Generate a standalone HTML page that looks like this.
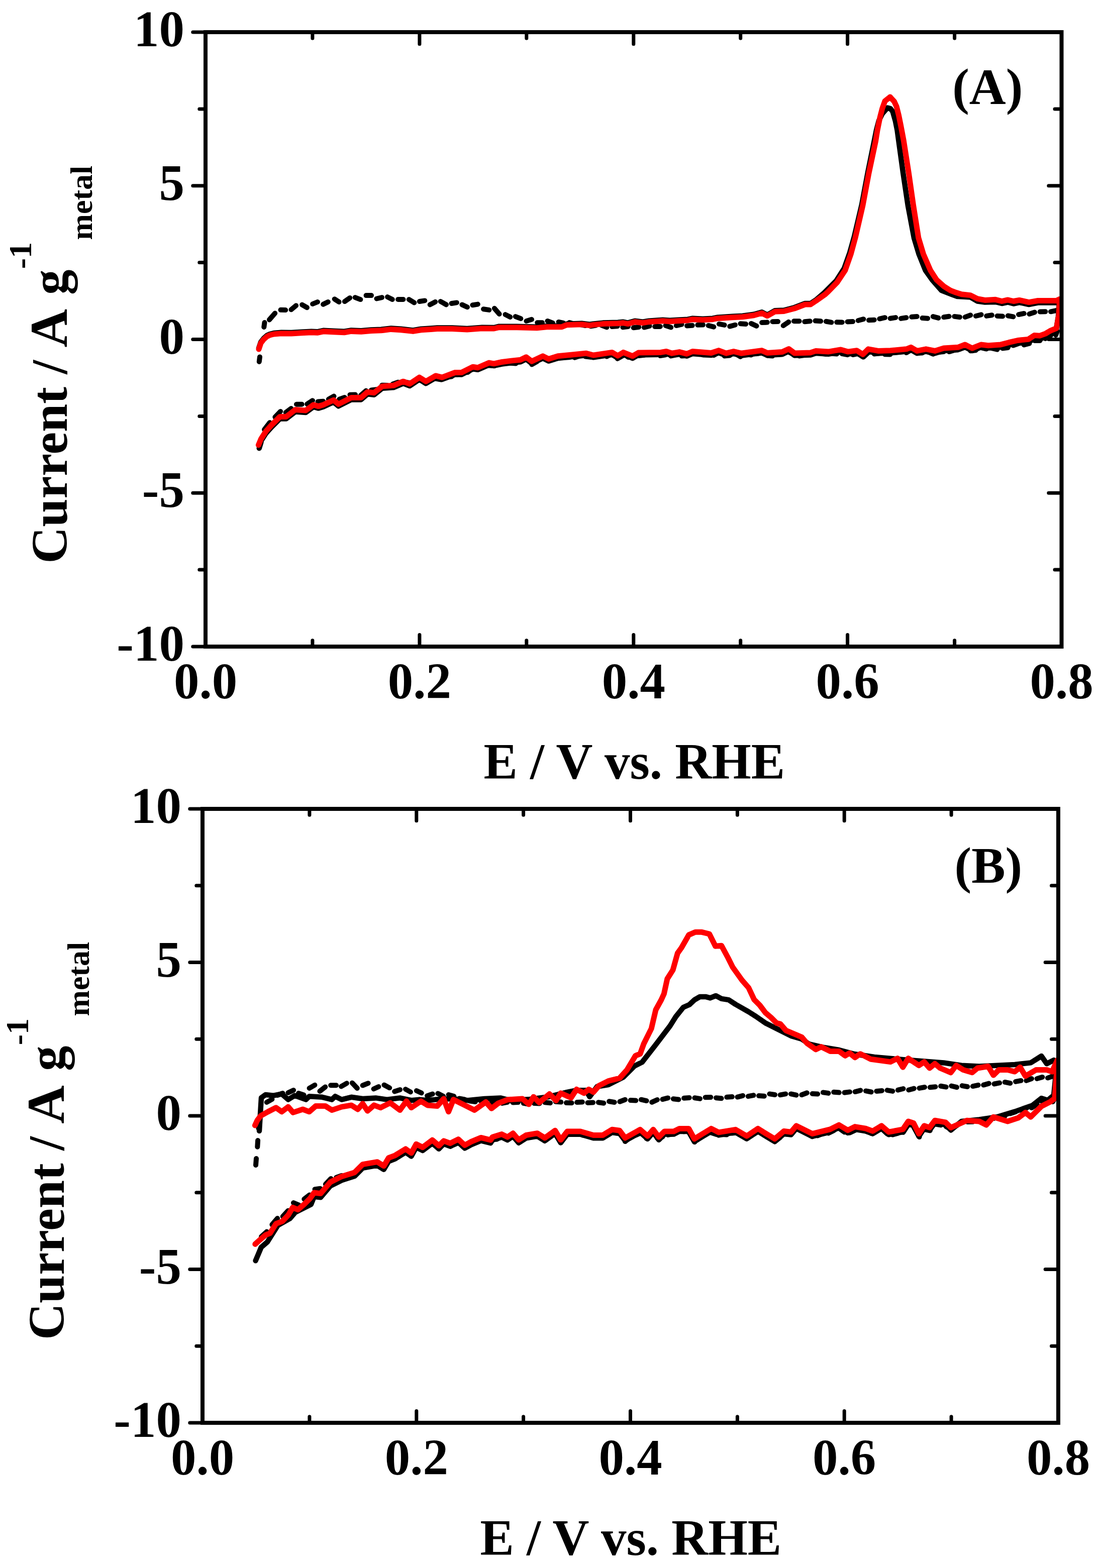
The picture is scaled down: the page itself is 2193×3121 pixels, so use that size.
<!DOCTYPE html>
<html><head><meta charset="utf-8"><title>CV plot</title>
<style>html,body{margin:0;padding:0;background:#fff;}svg{display:block;}</style>
</head><body>
<svg width="2193" height="3121" viewBox="0 0 2193 3121">
<rect width="100%" height="100%" fill="#fff"/>
<g font-family="'Liberation Serif', 'Times New Roman', serif" font-weight="bold" font-size="101" fill="#000">
<path d="M515.8 720.0L517.0 710.4M525.3 651.0L526.5 642.0M536.0 636.4L547.2 623.5M558.5 616.8L568.2 617.1M579.5 616.3L589.1 608.2M601.2 606.6L610.9 612.2M622.2 605.0L631.9 601.0M643.1 605.8L652.8 601.0M665.7 595.3L674.6 601.0M685.9 600.1L696.3 592.9M706.8 592.1L717.3 596.1M728.6 588.1L739.0 588.1M749.5 594.5L760.0 592.1M771.1 591.1L780.8 596.0M792.1 596.0L802.5 596.0M813.8 596.0L824.3 602.4M834.8 600.0L845.3 598.4M855.7 606.4L866.2 600.8M876.7 600.0L888.0 606.4M898.5 604.0L908.9 602.4M919.4 606.4L929.9 611.3M940.4 607.2L950.8 605.6M962.1 615.3L973.4 616.9M983.9 613.7L993.6 625.0M1005.6 626.1L1015.3 631.0M1025.8 630.1L1036.3 634.2M1047.5 639.0L1058.0 635.8M1069.3 642.2L1079.0 642.2M1089.5 639.0L1100.0 643.0M1111.6 641.0L1121.0 643.0M1132.9 642.1L1143.6 645.1M1154.2 645.9L1164.8 648.0M1175.5 649.2L1186.1 647.6M1196.8 647.4L1207.4 651.4M1218.1 650.1L1228.7 649.2M1239.4 651.4L1250.0 650.0M1260.7 652.3L1271.3 651.0M1281.9 651.6L1292.6 648.9M1303.2 650.1L1313.9 649.9M1324.5 648.0L1335.2 651.6M1345.8 648.1L1356.5 645.7M1367.1 648.4L1377.7 647.8M1388.4 646.8L1399.0 646.5M1409.7 647.9L1420.3 650.7M1431.0 644.9L1441.6 646.9M1452.3 649.6L1462.9 646.7M1473.5 644.2L1484.2 645.0M1494.8 643.9L1505.5 648.9M1516.1 642.1L1526.8 641.6M1537.4 640.2L1548.1 640.0M1558.7 648.2L1569.4 640.8M1580.0 639.2L1590.6 639.2M1601.3 640.3L1611.9 639.3M1622.6 638.6L1633.2 639.3M1643.9 639.8L1654.5 641.6M1665.2 641.3L1675.8 641.5M1686.5 640.4L1697.1 640.1M1707.7 638.0L1718.4 635.2M1729.0 637.3L1739.7 636.7M1750.3 634.6L1761.0 632.2M1771.6 633.7L1782.3 632.1M1792.9 633.9L1803.5 632.2M1814.2 630.8L1824.8 630.0M1835.5 633.1L1846.1 633.7M1856.8 630.1L1867.4 632.9M1878.1 631.3L1888.7 629.8M1899.3 629.9L1910.0 631.2M1920.6 631.1L1931.3 627.3M1941.9 629.0L1952.6 626.3M1963.2 628.9L1973.9 627.2M1984.5 629.0L1995.2 629.6M2005.8 628.5L2016.4 630.4M2027.1 626.1L2037.7 623.9M2048.4 625.0L2059.0 621.5M2069.7 620.5L2080.3 620.2M2091.0 620.3L2101.6 618.1M2104.0 659.0L2101.0 667.0M2091.0 667.7L2080.3 674.0M2069.7 677.9L2059.0 678.1M2048.4 683.6L2037.7 686.4M2027.1 683.7L2016.4 687.6M2005.8 692.0L1995.2 693.4M1984.5 695.7L1973.9 693.2M1963.2 694.5L1952.6 692.1M1941.9 697.2L1931.3 698.4M1920.6 690.6L1910.0 695.0M1899.3 696.9L1888.7 700.1M1878.1 700.1L1867.4 700.9M1856.8 704.8L1846.1 699.9M1835.5 702.6L1824.8 702.7M1814.2 696.0L1803.5 702.1M1792.9 700.4L1782.3 701.4M1771.6 705.4L1761.0 705.2M1750.3 703.2L1739.7 704.5M1729.0 700.9L1718.4 710.6M1707.7 703.9L1697.1 706.1M1686.5 706.2L1675.8 704.1M1665.2 704.4L1654.5 703.8M1643.9 704.7L1633.2 703.2M1622.6 702.8L1611.9 705.6M1601.3 706.9L1590.6 708.5M1580.0 705.5L1569.4 700.7M1558.7 704.3L1548.1 705.7M1537.4 708.4L1526.8 707.7M1516.1 702.3L1505.5 704.2M1494.8 706.5L1484.2 705.3M1473.5 710.0L1462.9 703.5M1452.3 707.5L1441.6 708.4M1431.0 701.1L1420.3 707.1M1409.7 706.6L1399.0 706.5M1388.4 703.4L1377.7 702.8M1367.1 707.9L1356.5 708.5M1345.8 705.4L1335.2 708.5M1324.5 706.4L1313.9 708.1M1303.2 705.8L1292.6 706.0M1281.9 706.8L1271.3 708.0M1260.7 711.0L1250.0 711.0M1239.4 707.9L1228.7 713.9M1218.1 704.2L1207.4 709.5M1196.8 707.6L1186.1 710.2M1175.5 710.7L1164.8 709.6M1154.2 708.3L1143.6 711.7M1132.9 711.2L1122.3 711.3M1111.6 712.4L1101.0 714.8M1090.3 716.5L1079.7 712.2M1069.0 719.3L1058.4 725.4M1047.8 714.3L1037.1 718.1M1026.5 723.4L1015.8 722.7M1005.2 723.6L994.5 724.6M983.9 728.2L973.2 727.6M962.6 730.7L951.9 735.1M941.3 732.6L930.7 741.2M920.0 742.9L909.4 745.6M898.7 749.5L888.1 750.6M877.4 755.6L866.8 753.7M856.1 758.1L845.5 761.8M834.8 751.6L824.2 758.7M813.6 761.9L802.9 759.8M792.3 760.7L781.6 764.4M771.0 766.9L760.3 766.7M749.7 775.3L739.0 776.4M728.4 777.8L717.8 787.0M707.1 785.6L696.5 785.8M685.8 791.0L675.2 794.8M664.5 788.6L653.9 794.5M643.2 798.8L632.6 799.5M622.0 797.3L611.3 804.3M600.7 804.7L590.0 804.8M579.4 813.0L568.7 821.0M558.1 818.9L547.4 830.1M536.8 841.1L526.1 855.0" fill="none" stroke="#000" stroke-width="10" stroke-linecap="round"/>
<path d="M515.0 693.0L519.0 681.0L524.8 673.5L531.6 667.5L537.0 665.0L545.0 663.0L560.0 661.7L579.8 662.1L599.7 660.7L619.5 659.7L631.4 660.3L643.3 657.8L663.2 658.8L685.0 659.7L698.9 657.4L718.7 658.2L738.6 656.4L758.4 655.8L778.3 653.4L798.1 654.8L821.9 657.4L837.8 654.8L857.6 653.4L870.0 652.6L899.8 652.6L929.5 654.0L959.3 651.7L983.1 652.0L993.0 649.7L1028.7 649.7L1068.4 650.7L1088.3 648.7L1118.0 648.7L1127.9 644.7L1157.7 643.7L1173.6 645.7L1180.0 644.6L1199.8 642.6L1229.6 641.7L1239.5 640.7L1249.4 642.6L1263.3 638.7L1279.2 640.7L1291.1 638.7L1318.9 636.7L1332.8 637.7L1348.7 636.7L1368.5 635.7L1378.4 633.7L1398.3 634.7L1418.1 633.7L1428.0 631.7L1457.8 629.7L1477.6 628.8L1500.0 625.8L1516.0 621.2L1527.0 626.8L1542.0 618.3L1560.0 617.5L1581.0 612.0L1602.0 604.0L1613.0 604.0L1625.0 596.0L1640.0 583.0L1664.0 559.0L1680.0 534.0L1691.0 503.0L1700.0 471.0L1715.0 407.0L1727.0 343.0L1740.0 279.0L1744.0 259.0L1749.0 240.0L1756.0 226.0L1766.0 214.6L1772.0 216.1L1776.5 222.1L1781.8 240.7L1785.5 259.3L1788.3 280.0L1797.2 344.5L1806.8 409.0L1818.9 473.4L1828.6 505.7L1841.5 537.9L1855.0 557.0L1873.7 578.2L1894.7 586.3L1905.0 590.0L1931.0 591.5L1945.0 599.5L1960.0 601.5L1981.0 601.0L1993.7 604.0L2005.3 601.5L2016.9 604.5L2028.5 602.0L2047.5 606.0L2065.4 602.5L2102.3 602.5L2108.0 598.5L2106.0 630.0L2101.0 660.0L2090.0 665.4L2081.2 670.6L2068.8 674.8L2058.2 673.9L2046.4 681.4L2025.3 683.1L2007.4 686.9L1991.6 690.9L1966.4 692.8L1952.2 691.0L1934.6 698.0L1920.4 690.9L1906.3 696.2L1878.0 698.0L1860.4 703.3L1842.7 699.7L1825.0 703.2L1812.7 696.1L1803.8 699.6L1772.0 702.5L1747.3 703.2L1727.8 699.6L1717.2 710.1L1704.9 702.4L1687.2 704.8L1673.1 700.6L1648.3 704.8L1623.6 703.1L1613.0 706.5L1581.2 707.6L1569.7 699.1L1556.6 705.2L1526.9 707.1L1515.7 702.2L1474.8 707.7L1459.9 704.0L1445.0 707.7L1430.1 702.1L1415.3 707.0L1378.1 703.9L1366.9 708.7L1352.0 705.0L1337.1 707.6L1326.0 703.9L1314.8 705.8L1270.2 706.4L1259.0 713.1L1240.4 705.7L1229.3 712.4L1218.1 705.7L1180.9 711.3L1166.0 707.4L1136.2 710.4L1110.2 713.0L1091.6 718.6L1080.4 713.0L1058.1 723.3L1047.0 714.8L1035.8 720.3L1017.2 722.2L999.0 724.6L982.9 727.9L973.2 726.2L950.7 735.8L941.0 734.2L918.4 745.5L905.5 745.5L879.7 755.2L866.8 751.9L847.5 763.2L834.6 755.2L815.3 768.0L802.4 763.2L783.0 771.3L760.5 772.9L744.3 785.8L731.4 784.2L718.6 795.4L699.2 795.4L673.4 808.3L663.8 800.3L643.3 809.8L633.6 812.6L623.8 809.8L608.5 820.9L587.6 819.5L569.4 833.5L556.9 833.5L540.2 850.2L529.0 862.7L519.3 878.0L519.5 880.0L515.8 892.2" fill="none" stroke="#000" stroke-width="10.5" stroke-linecap="round" stroke-linejoin="round"/>
<path d="M515.0 695.0L519.0 683.0L524.8 675.5L531.6 669.5L537.0 667.0L545.0 665.0L560.0 663.7L579.8 664.1L599.7 662.7L619.5 661.7L631.4 662.3L643.3 659.8L663.2 660.8L685.0 661.7L698.9 659.4L718.7 660.2L738.6 658.4L758.4 657.8L778.3 655.4L798.1 656.8L821.9 659.4L837.8 656.8L857.6 655.4L870.0 654.6L899.8 654.6L929.5 656.0L959.3 653.7L983.1 654.0L993.0 651.7L1028.7 651.7L1068.4 652.7L1088.3 650.7L1118.0 650.7L1127.9 646.7L1157.7 645.7L1173.6 647.7L1180.0 646.6L1199.8 644.6L1229.6 643.7L1239.5 642.7L1249.4 644.6L1263.3 640.7L1279.2 642.7L1291.1 640.7L1318.9 638.7L1332.8 639.7L1348.7 638.7L1368.5 637.7L1378.4 635.7L1398.3 636.7L1418.1 635.7L1428.0 633.7L1457.8 631.7L1477.6 630.8L1500.0 627.8L1516.0 623.2L1527.0 628.8L1542.0 620.3L1560.0 619.5L1581.0 614.0L1602.0 606.0L1613.0 606.0L1625.0 598.0L1641.6 586.3L1648.0 580.5L1665.8 562.1L1681.9 537.9L1693.2 505.7L1702.0 473.4L1716.9 409.0L1729.0 344.5L1742.7 280.0L1746.0 259.3L1751.3 233.2L1755.7 216.1L1761.0 201.3L1771.3 193.0L1779.5 202.0L1784.0 211.7L1788.5 229.5L1793.0 251.8L1798.3 280.0L1808.4 344.5L1817.6 409.0L1827.8 473.4L1837.5 505.7L1851.5 537.9L1864.0 557.2L1878.6 570.1L1891.4 578.2L1900.0 581.4L1913.4 585.8L1931.0 587.6L1945.0 594.6L1960.0 597.4L1981.0 596.3L1993.7 599.5L2005.3 596.9L2016.9 599.5L2028.5 597.4L2047.5 601.6L2065.4 598.5L2102.3 598.5L2108.6 595.3L2107.0 628.0L2102.3 653.3L2090.0 658.4L2081.2 663.8L2068.8 668.3L2058.2 667.6L2046.4 675.4L2025.3 677.5L2007.4 681.7L1991.6 685.9L1966.4 687.8L1952.2 686.0L1934.6 693.1L1920.4 686.0L1906.3 691.3L1878.0 693.1L1860.4 698.4L1842.7 694.8L1825.0 698.4L1812.7 691.3L1803.8 694.8L1772.0 697.7L1747.3 698.4L1727.8 694.8L1717.2 705.4L1704.9 697.7L1687.2 700.1L1673.1 695.9L1648.3 700.1L1623.6 698.4L1613.0 701.9L1581.2 703.0L1569.7 694.5L1556.6 700.6L1526.9 702.5L1515.7 697.6L1474.8 703.2L1459.9 699.5L1445.0 703.2L1430.1 697.6L1415.3 702.5L1378.1 699.5L1366.9 704.3L1352.0 700.6L1337.1 703.2L1326.0 699.5L1314.8 701.4L1270.2 702.1L1259.0 708.8L1240.4 701.4L1229.3 708.1L1218.1 701.4L1180.9 707.0L1166.0 703.2L1136.2 706.2L1110.2 708.8L1091.6 714.4L1080.4 708.8L1058.1 719.2L1047.0 710.7L1035.8 716.2L1017.2 718.1L999.0 720.5L982.9 723.8L973.2 722.1L950.7 731.8L941.0 730.2L918.4 741.5L905.5 741.5L879.7 751.2L866.8 747.9L847.5 759.2L834.6 751.2L815.3 764.0L802.4 759.2L783.0 767.3L760.5 768.9L744.3 781.8L731.4 780.2L718.6 791.4L699.2 791.4L673.4 804.3L663.8 796.3L643.3 805.8L633.6 808.6L623.8 805.8L608.5 816.9L587.6 815.5L569.4 829.5L556.9 829.5L540.2 846.2L529.0 858.7L519.3 874.0L514.4 885.9" fill="none" stroke="#f00" stroke-width="11" stroke-linecap="round" stroke-linejoin="round"/>
<rect x="409.0" y="64.0" width="1703.5" height="1223.0" fill="none" stroke="#000" stroke-width="8" stroke-linejoin="miter"/>
<path d="M383.8 64.0L409.0 64.0M2086.8 64.0L2112.5 64.0M396.8 216.9L409.0 216.9M2099.0 216.9L2112.5 216.9M383.8 369.8L409.0 369.8M2086.8 369.8L2112.5 369.8M396.8 522.6L409.0 522.6M2099.0 522.6L2112.5 522.6M383.8 675.5L409.0 675.5M2086.8 675.5L2112.5 675.5M396.8 828.4L409.0 828.4M2099.0 828.4L2112.5 828.4M383.8 981.2L409.0 981.2M2086.8 981.2L2112.5 981.2M396.8 1134.1L409.0 1134.1M2099.0 1134.1L2112.5 1134.1M383.8 1287.0L409.0 1287.0M2086.8 1287.0L2112.5 1287.0M409.0 64.0L409.0 87.8M409.0 1263.5L409.0 1287.0M621.9 64.0L621.9 76.2M621.9 1274.8L621.9 1287.0M834.9 64.0L834.9 87.8M834.9 1263.5L834.9 1287.0M1047.8 64.0L1047.8 76.2M1047.8 1274.8L1047.8 1287.0M1260.8 64.0L1260.8 87.8M1260.8 1263.5L1260.8 1287.0M1473.7 64.0L1473.7 76.2M1473.7 1274.8L1473.7 1287.0M1686.6 64.0L1686.6 87.8M1686.6 1263.5L1686.6 1287.0M1899.6 64.0L1899.6 76.2M1899.6 1274.8L1899.6 1287.0M2112.5 64.0L2112.5 87.8M2112.5 1263.5L2112.5 1287.0" stroke="#000" stroke-width="7" stroke-linecap="round" fill="none"/>
<text x="367.0" y="92.0" text-anchor="end">10</text>
<text x="367.0" y="397.8" text-anchor="end">5</text>
<text x="367.0" y="703.5" text-anchor="end">0</text>
<text x="367.0" y="1009.2" text-anchor="end">-5</text>
<text x="367.0" y="1315.0" text-anchor="end">-10</text>
<text x="409.0" y="1390.0" text-anchor="middle">0.0</text>
<text x="834.9" y="1390.0" text-anchor="middle">0.2</text>
<text x="1260.8" y="1390.0" text-anchor="middle">0.4</text>
<text x="1686.6" y="1390.0" text-anchor="middle">0.6</text>
<text x="2112.5" y="1390.0" text-anchor="middle">0.8</text>
<text x="962.5" y="1549.5">E / V vs. RHE</text>
<text x="1895.2" y="206.8">(A)</text>
<g transform="translate(132.5 1121.7) rotate(-90)"><text x="0" y="0">Current /</text><text x="430.1" y="0" font-size="106">A</text><text x="534.8" y="0">g</text></g>
<g transform="translate(62.0 535.3) rotate(-90)"><text x="0" y="0" font-size="64">-1</text></g>
<g transform="translate(183.0 477.7) rotate(-90)"><text x="0" y="0" font-size="62">metal</text></g>
<path d="M509.0 2319.0L510.0 2306.0M512.3 2282.8L513.1 2270.0M514.5 2246.0L515.2 2233.0M530.8 2194.0L541.4 2188.0M552.1 2180.0L562.7 2176.0M573.4 2175.0L584.0 2170.0M594.0 2176.0L604.6 2179.5M615.6 2166.0L626.4 2159.7M636.4 2172.0L647.3 2163.5M658.2 2160.3L669.1 2160.3M679.1 2162.5L689.9 2156.2M700.9 2155.5L710.8 2166.0M721.7 2160.5L732.6 2156.2M743.6 2167.5L753.4 2163.0M764.4 2159.5L775.2 2165.3M785.2 2172.5L796.1 2169.0M807.0 2168.0L816.9 2173.5M828.9 2171.0L838.7 2175.5M850.1 2181.2L860.8 2177.6M871.4 2176.5L882.1 2181.9M892.7 2179.0L903.4 2182.1M914.0 2186.4L924.7 2188.4M935.3 2191.6L945.9 2193.0M956.6 2191.4L967.2 2193.2M977.9 2194.9L988.5 2194.3M999.2 2195.9L1009.8 2193.8M1020.5 2194.4L1031.1 2194.1M1041.8 2195.9L1052.4 2197.9M1063.0 2196.1L1073.7 2196.4M1084.3 2194.3L1095.0 2195.4M1105.6 2192.8L1116.3 2193.6M1126.9 2195.1L1137.6 2195.3M1148.2 2194.1L1158.8 2193.4M1169.5 2194.9L1180.1 2194.6M1190.8 2194.3L1201.4 2195.7M1212.1 2192.3L1222.7 2194.0M1233.4 2192.8L1244.0 2188.8M1254.7 2190.1L1265.3 2190.6M1275.9 2188.7L1286.6 2191.1M1297.2 2193.9L1307.9 2189.0M1318.5 2188.2L1329.2 2185.4M1339.8 2187.2L1350.5 2188.5M1361.1 2185.7L1371.7 2184.9M1382.4 2185.2L1393.0 2186.9M1403.7 2184.3L1414.3 2184.0M1425.0 2185.2L1435.6 2186.3M1446.3 2183.8L1456.9 2183.1M1467.5 2183.6L1478.2 2180.8M1488.8 2182.2L1499.5 2180.1M1510.1 2181.1L1520.8 2181.7M1531.4 2177.4L1542.1 2179.0M1552.7 2179.3L1563.4 2177.4M1574.0 2177.4L1584.6 2179.7M1595.3 2179.2L1605.9 2175.2M1616.6 2177.0L1627.2 2177.5M1637.9 2174.4L1648.5 2175.9M1659.2 2173.7L1669.8 2174.6M1680.5 2174.8L1691.1 2173.4M1701.7 2173.1L1712.4 2170.3M1723.0 2171.4L1733.7 2173.5M1744.3 2171.9L1755.0 2170.9M1765.6 2170.1L1776.3 2171.9M1786.9 2169.7L1797.5 2167.0M1808.2 2169.5L1818.8 2166.6M1829.5 2165.9L1840.1 2164.0M1850.8 2164.3L1861.4 2163.2M1872.1 2161.8L1882.7 2163.6M1893.3 2161.5L1904.0 2164.2M1914.6 2161.1L1925.3 2163.0M1935.9 2162.1L1946.6 2159.8M1957.2 2159.6L1967.9 2156.6M1978.5 2157.5L1989.2 2155.4M1999.8 2153.9L2010.4 2156.1M2021.1 2152.9L2031.7 2150.9M2042.4 2150.9L2053.0 2147.0M2063.7 2147.0L2074.3 2143.9M2085.0 2145.6L2095.6 2141.8M2099.0 2186.0L2095.0 2193.0M2085.0 2194.0L2074.3 2193.3M2063.7 2198.0L2053.0 2205.0M2042.4 2205.9L2031.7 2209.7M2021.1 2213.0L2010.4 2216.4M1999.8 2221.5L1989.2 2222.1M1978.5 2225.9L1967.9 2226.1M1957.2 2228.0L1946.6 2230.0M1935.9 2232.8L1925.3 2233.1M1914.6 2231.9L1904.0 2240.4M1893.3 2248.1L1882.7 2242.4M1872.1 2239.4L1861.4 2237.6M1850.8 2250.4L1840.1 2248.0M1829.5 2263.1L1818.8 2244.3M1808.2 2237.2L1797.5 2253.9M1786.9 2255.6L1776.3 2258.6M1765.6 2256.8L1755.0 2247.0M1744.3 2252.1L1733.7 2255.8M1723.0 2251.4L1712.4 2248.7M1701.7 2249.8L1691.1 2254.7M1680.5 2253.4L1669.8 2245.8M1659.2 2250.2L1648.5 2255.5M1637.9 2255.7L1627.2 2260.5M1616.6 2262.2L1605.9 2255.8M1595.3 2250.6L1584.6 2246.6M1574.0 2257.9L1563.4 2257.3M1552.7 2263.7L1542.1 2271.9M1531.4 2264.8L1520.8 2259.8M1510.1 2252.1L1499.5 2256.8M1488.8 2263.8L1478.2 2261.8M1467.5 2254.5L1456.9 2255.6M1446.3 2258.6L1435.6 2258.1M1425.0 2257.7L1414.3 2254.2M1403.7 2257.1L1393.0 2263.9M1382.4 2273.2L1371.7 2255.3M1361.1 2252.4L1350.5 2251.3M1339.8 2257.1L1329.2 2258.9M1318.5 2262.7L1307.9 2265.5M1297.2 2255.6L1286.6 2266.2M1275.9 2255.0L1265.3 2259.4M1254.7 2263.0L1244.0 2272.1M1233.4 2256.4L1222.7 2255.1M1212.1 2256.1L1201.4 2264.1M1190.8 2265.1L1180.1 2264.9M1169.5 2260.9L1158.8 2259.3M1148.2 2256.6L1137.6 2256.4M1126.9 2258.3L1116.3 2274.2M1105.6 2255.5L1095.0 2261.3M1084.3 2268.4L1073.7 2264.2M1063.0 2262.2L1052.4 2263.9M1041.8 2266.1L1031.1 2272.5M1020.5 2260.5L1009.8 2266.7M999.2 2261.0L988.5 2267.7M977.9 2270.3L967.2 2271.2M956.6 2268.7L945.9 2274.5M935.3 2277.1L924.7 2284.2M914.0 2273.9L903.4 2278.3M892.7 2277.4L882.1 2275.9M871.4 2283.6L860.8 2276.0M850.1 2281.5L839.5 2287.2M828.8 2282.6L818.2 2298.2M807.6 2289.4L796.9 2297.2M786.3 2305.3L775.6 2308.6M765.0 2321.4L754.3 2319.2M743.7 2318.7L733.0 2318.1M722.4 2321.1L711.8 2330.2M701.1 2336.5L690.5 2338.4M679.8 2339.9L669.2 2343.8M658.5 2345.9L647.9 2357.2M637.2 2365.8L626.6 2367.1M616.0 2378.5L605.3 2386.7M594.7 2398.7L584.0 2394.1M573.4 2409.7L562.7 2421.3M552.1 2425.0L541.4 2437.6M530.8 2451.6L520.1 2461.4" fill="none" stroke="#000" stroke-width="10" stroke-linecap="round"/>
<path d="M516.0 2251.0L520.0 2185.0L528.4 2179.0L544.5 2180.6L560.6 2177.3L573.5 2188.6L586.4 2180.6L608.9 2188.6L615.4 2182.2L641.2 2183.8L660.5 2188.6L667.0 2182.2L679.9 2188.6L699.2 2183.8L721.8 2187.0L747.6 2185.4L770.1 2188.6L795.9 2185.4L818.5 2190.2L834.6 2188.6L850.7 2190.2L866.8 2188.6L899.1 2187.0L931.3 2190.2L963.5 2187.0L995.8 2185.4L1017.2 2190.6L1054.4 2188.0L1091.6 2183.2L1128.8 2173.9L1147.4 2170.2L1166.0 2170.2L1173.5 2183.0L1188.3 2162.7L1210.7 2159.0L1240.4 2144.1L1262.7 2121.8L1277.6 2114.4L1303.7 2080.9L1333.4 2042.0L1344.9 2023.6L1359.8 2005.0L1371.7 1999.8L1382.1 1990.1L1392.5 1984.1L1405.0 1984.1L1413.3 1986.4L1424.5 1981.9L1435.7 1987.9L1450.0 1990.1L1463.6 1999.0L1489.7 2013.9L1504.5 2023.2L1523.2 2036.3L1549.2 2049.3L1575.2 2062.3L1595.0 2068.0L1610.0 2078.0L1640.0 2085.0L1670.0 2090.0L1700.0 2098.0L1740.0 2104.0L1807.4 2110.1L1878.0 2115.4L1913.4 2120.7L1948.7 2122.5L1984.0 2120.7L2019.4 2119.0L2051.2 2115.4L2063.0 2108.0L2072.4 2102.0L2083.0 2117.2L2097.1 2110.1L2100.0 2112.0L2100.0 2150.0L2097.0 2180.0L2085.0 2190.0L2072.4 2186.1L2054.7 2200.2L2019.4 2212.6L1984.0 2223.2L1948.7 2228.5L1913.4 2232.0L1892.2 2249.4L1881.6 2238.8L1860.4 2235.2L1849.8 2249.5L1839.2 2245.9L1828.6 2261.8L1818.0 2240.6L1807.4 2237.1L1796.7 2253.0L1768.5 2258.3L1754.3 2245.9L1736.7 2256.6L1722.5 2251.3L1701.3 2247.8L1687.2 2254.9L1669.5 2244.3L1651.9 2253.1L1616.5 2262.0L1584.7 2246.1L1574.1 2258.5L1560.0 2256.7L1541.8 2272.3L1523.2 2261.1L1508.3 2251.8L1486.0 2266.7L1463.6 2253.7L1430.1 2259.4L1415.3 2251.9L1396.7 2263.1L1381.8 2272.4L1370.6 2251.9L1352.0 2251.9L1340.9 2257.6L1322.3 2257.6L1311.1 2268.8L1299.9 2253.9L1288.8 2266.9L1273.9 2253.9L1244.1 2270.7L1233.0 2255.9L1218.1 2254.0L1199.5 2265.2L1180.9 2265.2L1154.9 2257.7L1128.8 2257.8L1115.8 2274.6L1104.6 2256.0L1084.2 2270.8L1069.3 2261.5L1047.0 2265.4L1032.1 2274.7L1020.9 2261.6L1009.8 2269.1L998.6 2263.5L980.0 2269.1L976.4 2275.1L957.1 2270.3L937.8 2278.4L924.9 2285.5L912.0 2273.6L895.9 2281.7L883.0 2276.9L873.3 2286.7L860.4 2275.5L841.1 2290.1L828.2 2283.8L818.5 2301.5L807.2 2293.5L786.3 2306.6L773.4 2311.5L763.7 2327.7L750.8 2319.7L721.8 2324.8L705.7 2341.0L679.9 2349.2L657.3 2360.6L638.0 2383.3L625.1 2381.8L618.9 2397.4L587.6 2413.0L577.2 2425.1L552.9 2439.0L532.1 2472.0L519.9 2482.4L508.6 2509.3" fill="none" stroke="#000" stroke-width="10.5" stroke-linecap="round" stroke-linejoin="round"/>
<path d="M507.4 2240.0L512.0 2230.0L518.7 2221.0L533.0 2213.0L549.3 2204.7L560.6 2212.8L573.5 2203.1L583.2 2214.4L602.5 2208.0L615.4 2212.8L628.3 2201.5L647.6 2201.5L660.5 2209.6L679.9 2203.1L699.2 2199.9L712.1 2208.0L721.8 2196.7L731.4 2211.2L744.3 2199.9L757.2 2204.7L776.6 2195.1L795.9 2209.6L808.8 2191.8L818.5 2204.7L837.8 2191.8L850.7 2199.9L870.1 2201.5L883.0 2187.0L892.6 2212.8L902.3 2188.6L924.9 2199.9L944.2 2209.6L966.8 2193.5L978.1 2206.3L991.2 2196.2L1009.8 2188.8L1039.5 2186.9L1052.5 2198.1L1061.8 2183.2L1073.0 2194.4L1093.5 2177.6L1106.5 2190.6L1115.8 2175.8L1136.3 2185.1L1147.4 2168.3L1162.3 2175.8L1171.6 2168.3L1180.9 2173.9L1192.1 2160.9L1210.7 2151.6L1233.0 2146.0L1247.9 2129.3L1264.6 2101.4L1273.9 2097.6L1281.3 2077.2L1296.2 2047.4L1305.0 2010.0L1316.0 1990.0L1321.4 1978.0L1327.9 1948.3L1339.1 1930.6L1348.4 1897.2L1355.8 1886.9L1370.7 1860.9L1383.7 1855.3L1396.7 1855.3L1411.6 1859.0L1423.7 1883.2L1435.8 1882.3L1448.8 1906.5L1458.1 1925.1L1476.7 1951.1L1489.7 1966.0L1500.8 1989.7L1512.0 2000.9L1523.2 2015.8L1534.3 2025.1L1545.5 2036.3L1552.9 2038.1L1564.1 2051.1L1574.1 2055.3L1595.3 2064.2L1605.9 2076.5L1623.6 2088.9L1634.2 2083.6L1651.9 2092.4L1669.5 2092.4L1681.9 2101.3L1690.7 2096.0L1701.3 2104.8L1712.0 2097.7L1733.1 2108.3L1772.0 2113.6L1786.1 2106.6L1796.7 2124.2L1807.4 2106.6L1828.6 2120.7L1839.2 2113.6L1849.8 2126.0L1860.4 2117.2L1871.0 2126.0L1892.2 2134.8L1902.8 2120.7L1916.9 2129.5L1934.6 2134.8L1945.2 2126.0L1966.4 2122.5L1977.0 2140.1L1987.6 2129.5L2005.2 2129.5L2019.4 2133.1L2030.0 2124.2L2040.6 2141.9L2061.8 2129.5L2083.0 2129.5L2093.6 2133.1L2104.2 2110.1L2102.4 2140.1L2098.9 2186.1L2090.0 2193.1L2072.4 2202.0L2051.2 2223.2L2040.6 2214.3L2026.4 2225.0L2005.2 2232.0L1977.0 2223.2L1962.8 2239.1L1948.7 2232.0L1924.0 2230.2L1892.2 2244.4L1881.6 2233.8L1860.4 2230.2L1849.8 2244.4L1839.2 2240.8L1828.6 2256.7L1818.0 2235.5L1807.4 2232.0L1796.7 2247.9L1768.5 2253.2L1754.3 2240.8L1736.7 2251.4L1722.5 2246.1L1701.3 2242.6L1687.2 2249.7L1669.5 2239.1L1651.9 2247.9L1616.5 2256.7L1584.7 2240.8L1574.1 2253.2L1560.0 2251.4L1541.8 2266.9L1523.2 2255.7L1508.3 2246.4L1486.0 2261.3L1463.6 2248.3L1430.1 2253.9L1415.3 2246.4L1396.7 2257.6L1381.8 2266.9L1370.6 2246.4L1352.0 2246.4L1340.9 2252.0L1322.3 2252.0L1311.1 2263.2L1299.9 2248.3L1288.8 2261.3L1273.9 2248.3L1244.1 2265.0L1233.0 2250.2L1218.1 2248.3L1199.5 2259.5L1180.9 2259.5L1154.9 2252.0L1128.8 2252.0L1115.8 2268.8L1104.6 2250.2L1084.2 2265.0L1069.3 2255.7L1047.0 2259.5L1032.1 2268.8L1020.9 2255.7L1009.8 2263.2L998.6 2257.6L980.0 2263.2L976.4 2269.2L957.1 2264.4L937.8 2272.4L924.9 2279.5L912.0 2267.6L895.9 2275.7L883.0 2270.8L873.3 2280.5L860.4 2269.2L841.1 2283.7L828.2 2277.3L818.5 2295.0L807.2 2286.9L786.3 2299.8L773.4 2304.7L763.7 2320.8L750.8 2312.7L721.8 2317.6L705.7 2333.7L679.9 2341.7L657.3 2353.0L638.0 2375.6L625.1 2374.0L617.2 2385.2L605.0 2397.4L592.8 2407.8L582.4 2403.4L573.8 2418.2L561.6 2431.2L549.4 2435.6L537.3 2454.7L528.6 2458.1L516.5 2468.5L507.8 2476.4" fill="none" stroke="#f00" stroke-width="11" stroke-linecap="round" stroke-linejoin="round"/>
<rect x="403.0" y="1610.0" width="1703.0" height="1222.0" fill="none" stroke="#000" stroke-width="8" stroke-linejoin="miter"/>
<path d="M377.8 1610.0L403.0 1610.0M2080.2 1610.0L2106.0 1610.0M390.8 1762.8L403.0 1762.8M2092.5 1762.8L2106.0 1762.8M377.8 1915.5L403.0 1915.5M2080.2 1915.5L2106.0 1915.5M390.8 2068.2L403.0 2068.2M2092.5 2068.2L2106.0 2068.2M377.8 2221.0L403.0 2221.0M2080.2 2221.0L2106.0 2221.0M390.8 2373.8L403.0 2373.8M2092.5 2373.8L2106.0 2373.8M377.8 2526.5L403.0 2526.5M2080.2 2526.5L2106.0 2526.5M390.8 2679.2L403.0 2679.2M2092.5 2679.2L2106.0 2679.2M377.8 2832.0L403.0 2832.0M2080.2 2832.0L2106.0 2832.0M403.0 1610.0L403.0 1633.8M403.0 2808.5L403.0 2832.0M615.9 1610.0L615.9 1622.2M615.9 2819.8L615.9 2832.0M828.8 1610.0L828.8 1633.8M828.8 2808.5L828.8 2832.0M1041.6 1610.0L1041.6 1622.2M1041.6 2819.8L1041.6 2832.0M1254.5 1610.0L1254.5 1633.8M1254.5 2808.5L1254.5 2832.0M1467.4 1610.0L1467.4 1622.2M1467.4 2819.8L1467.4 2832.0M1680.2 1610.0L1680.2 1633.8M1680.2 2808.5L1680.2 2832.0M1893.1 1610.0L1893.1 1622.2M1893.1 2819.8L1893.1 2832.0M2106.0 1610.0L2106.0 1633.8M2106.0 2808.5L2106.0 2832.0" stroke="#000" stroke-width="7" stroke-linecap="round" fill="none"/>
<text x="361.0" y="1638.0" text-anchor="end">10</text>
<text x="361.0" y="1943.5" text-anchor="end">5</text>
<text x="361.0" y="2249.0" text-anchor="end">0</text>
<text x="361.0" y="2554.5" text-anchor="end">-5</text>
<text x="361.0" y="2860.0" text-anchor="end">-10</text>
<text x="403.0" y="2935.0" text-anchor="middle">0.0</text>
<text x="828.8" y="2935.0" text-anchor="middle">0.2</text>
<text x="1254.5" y="2935.0" text-anchor="middle">0.4</text>
<text x="1680.2" y="2935.0" text-anchor="middle">0.6</text>
<text x="2106.0" y="2935.0" text-anchor="middle">0.8</text>
<text x="955.5" y="3094.5">E / V vs. RHE</text>
<text x="1899.6" y="1757.0">(B)</text>
<g transform="translate(126.5 2666.9) rotate(-90)"><text x="0" y="0">Current /</text><text x="430.1" y="0" font-size="106">A</text><text x="534.8" y="0">g</text></g>
<g transform="translate(55.5 2080.3) rotate(-90)"><text x="0" y="0" font-size="64">-1</text></g>
<g transform="translate(177.3 2022.7) rotate(-90)"><text x="0" y="0" font-size="62">metal</text></g>
</g></svg>
</body></html>
